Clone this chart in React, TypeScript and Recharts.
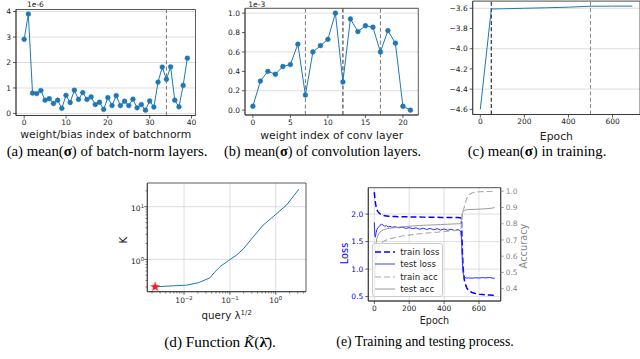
import React from "react";
import {
  CartesianGrid,
  ComposedChart,
  Legend,
  Line,
  LineChart,
  ReferenceArea,
  ReferenceLine,
  Scatter,
  XAxis,
  YAxis,
} from "recharts";

const SANS = "DejaVu Sans";
const SERIF = "Liberation Serif";
const BLUE = "#1f77b4";
const INK = "#222";
const GRID = "#d6d6d6";
const SPINE = "#333";

// (a) mean(sigma) per batch-norm weight/bias, units of 1e-6
const BN_SIGMA = [
  2.91, 3.9, 0.8, 0.78, 0.9, 0.52, 0.58, 0.39, 0.52, 0.2, 0.71, 0.43, 0.91, 0.55,
  0.82, 0.55, 0.65, 0.35, 0.44, 0.16, 0.62, 0.31, 0.7, 0.31, 0.48, 0.31, 0.56, 0.22,
  0.35, 0.13, 0.49, 0.25, 1.23, 1.82, 1.34, 1.83, 0.52, 0.26, 1.1, 2.17,
];
const BN_SPLITS = [34];
const BN_TICKS_X = [0, 10, 20, 30, 40];
const BN_TICKS_Y = [0, 1, 2, 3, 4];

// (b) mean(sigma) per conv weight, units of 1e-3
const CONV_SIGMA = [
  0.04, 0.3, 0.4, 0.37, 0.45, 0.47, 0.68, 0.155, 0.6, 0.665, 0.73, 1.0, 0.29, 0.94,
  0.81, 0.87, 0.855, 0.6, 0.82, 0.69, 0.04, 0.0,
];
const CONV_SPLITS = [7, 12, 17];
const CONV_TICKS_X = [0, 5, 10, 15, 20];
const CONV_TICKS_Y = [0, 0.2, 0.4, 0.6, 0.8, 1.0];

// (c) mean(sigma) during training
const C_EPOCH = [0, 50, 100, 200, 300, 400, 470, 500, 600, 690];
const C_SIGMA = [-4.6, -3.607, -3.605, -3.6, -3.595, -3.589, -3.582, -3.58, -3.579, -3.579];
const C_SPLITS = [50, 500];
const C_TICKS_X = [0, 200, 400, 600];
const C_TICKS_Y = [-4.6, -4.4, -4.2, -4.0, -3.8, -3.6];

// (d) K(lambda) on log-log axes
const K_X = [0.00234, 0.00589, 0.0115, 0.0204, 0.0367, 0.0472, 0.0631, 0.092, 0.14, 0.195, 0.324, 0.53, 0.875, 1.71, 3.21];
const K_Y = [0.302, 0.316, 0.325, 0.36, 0.448, 0.582, 0.746, 0.942, 1.21, 1.57, 2.69, 4.47, 6.46, 10.7, 21.6];
const K_START = [{ x: 0.00234, y: 0.302 }];
const K_TICKS_X = [
  0.002, 0.003, 0.004, 0.005, 0.006, 0.007, 0.008, 0.009, 0.01, 0.02, 0.03, 0.04, 0.05,
  0.06, 0.07, 0.08, 0.09, 0.1, 0.2, 0.3, 0.4, 0.5, 0.6, 0.7, 0.8, 0.9, 1, 2, 3, 4,
];
const K_TICKS_Y = [0.3, 0.4, 0.5, 0.6, 0.7, 0.8, 0.9, 1, 2, 3, 4, 5, 6, 7, 8, 9, 10, 20];
const K_MAJOR_X = [0.01, 0.1, 1];
const K_MAJOR_Y = [1, 10];

// (e) training / testing curves
const E_EPOCH = [
  0, 3, 6, 10, 15, 20, 30, 40, 50, 60, 70, 80, 90, 100, 120, 140, 160, 180, 200, 220,
  240, 260, 280, 300, 320, 340, 360, 380, 400, 420, 440, 460, 480, 490, 495, 500, 505,
  510, 515, 520, 530, 540, 560, 580, 600, 620, 640, 660, 680, 690,
];
const TRAIN_LOSS = [
  2.4, 2.29, 2.21, 2.14, 2.08, 2.05, 2.01, 1.99, 1.975, 1.97, 1.965, 1.96, 1.96, 1.957,
  1.955, 1.953, 1.952, 1.95, 1.95, 1.948, 1.947, 1.946, 1.945, 1.944, 1.943, 1.942,
  1.941, 1.94, 1.94, 1.939, 1.938, 1.937, 1.936, 1.935, 1.93, 1.86, 1.3, 0.98, 0.82,
  0.74, 0.66, 0.61, 0.575, 0.555, 0.545, 0.538, 0.532, 0.527, 0.523, 0.52,
];
const TEST_LOSS = [
  1.85, 1.62, 1.58, 1.66, 1.72, 1.75, 1.78, 1.82, 1.8, 1.78, 1.79, 1.765, 1.78, 1.76,
  1.77, 1.75, 1.765, 1.74, 1.755, 1.735, 1.75, 1.725, 1.745, 1.72, 1.74, 1.715, 1.735,
  1.71, 1.73, 1.705, 1.725, 1.7, 1.72, 1.7, 1.69, 1.55, 1.12, 0.92, 0.87, 0.845, 0.835,
  0.84, 0.835, 0.842, 0.838, 0.845, 0.84, 0.848, 0.835, 0.83,
];
const TRAIN_ACC = [
  0.36, 0.46, 0.53, 0.58, 0.62, 0.64, 0.665, 0.68, 0.69, 0.695, 0.7, 0.705, 0.708, 0.71,
  0.715, 0.72, 0.724, 0.727, 0.73, 0.733, 0.736, 0.738, 0.74, 0.742, 0.744, 0.746, 0.748,
  0.75, 0.752, 0.754, 0.756, 0.758, 0.76, 0.761, 0.762, 0.79, 0.86, 0.885, 0.9, 0.92,
  0.955, 0.975, 0.99, 0.995, 0.997, 0.998, 0.998, 0.999, 0.999, 0.999,
];
const TEST_ACC = [
  0.36, 0.56, 0.63, 0.68, 0.71, 0.725, 0.745, 0.755, 0.762, 0.765, 0.768, 0.77, 0.772,
  0.774, 0.776, 0.779, 0.781, 0.783, 0.785, 0.786, 0.788, 0.789, 0.79, 0.791, 0.792,
  0.793, 0.794, 0.795, 0.796, 0.797, 0.798, 0.799, 0.8, 0.8, 0.8, 0.83, 0.865, 0.877,
  0.881, 0.884, 0.886, 0.887, 0.888, 0.889, 0.89, 0.891, 0.892, 0.894, 0.897, 0.9,
];
const E_TICKS_X = [0, 200, 400, 600];
const LOSS_TICKS = [0.5, 1.0, 1.5, 2.0];
const ACC_TICKS = [0.4, 0.5, 0.6, 0.7, 0.8, 0.9, 1.0];

const TICK = { fontSize: 7.5, fill: INK, fontFamily: SANS };
const AXIS_LINE = { stroke: SPINE, strokeWidth: 0.8 };
const TICK_LINE = { stroke: SPINE, strokeWidth: 0.8 };

const minus = (s: string) => s.replace("-", "\u2212");

// axis titles are placed in the chart's own svg coordinates
function xTitle(text: React.ReactNode, cx: number, baseline: number, size = 10.8) {
  return () => (
    <text x={cx} y={baseline} textAnchor="middle" fontSize={size} fontFamily={SANS} fill={INK}>
      {text}
    </text>
  );
}

function yTitle(text: string, cx: number, cy: number, size: number, color = INK) {
  return () => (
    <text
      x={cx}
      y={cy}
      transform={`rotate(-90 ${cx} ${cy})`}
      textAnchor="middle"
      dominantBaseline="central"
      fontSize={size}
      fontFamily={SANS}
      fill={color}
    >
      {text}
    </text>
  );
}

// box around the plot area (top and right spines)
function frame(xd: number[], yd: number[], yAxisId?: string) {
  return (
    <ReferenceArea
      x1={xd[0]}
      x2={xd[1]}
      y1={yd[0]}
      y2={yd[1]}
      yAxisId={yAxisId}
      fill="none"
      fillOpacity={0}
      stroke={SPINE}
      strokeWidth={0.8}
      ifOverflow="visible"
    />
  );
}

function isMajor(v: number, majors: number[]) {
  return majors.some((m) => Math.abs(m - v) / m < 1e-6);
}

function expLabel(v: number) {
  const e = Math.round(Math.log10(v));
  return e < 0 ? `\u2212${-e}` : `${e}`;
}

function LogTickX(props: any) {
  const { x, y, payload } = props;
  const major = isMajor(payload.value, K_MAJOR_X);
  return (
    <g>
      <line x1={x} x2={x} y1={y} y2={y + (major ? 3 : 1.8)} stroke={SPINE} strokeWidth={major ? 0.8 : 0.6} />
      {major && (
        <text x={x} y={y + 11.6} textAnchor="middle" fontSize={7.5} fontFamily={SANS} fill={INK}>
          10<tspan dy={-3} fontSize={5.3}>{expLabel(payload.value)}</tspan>
        </text>
      )}
    </g>
  );
}

function LogTickY(props: any) {
  const { x, y, payload } = props;
  const major = isMajor(payload.value, K_MAJOR_Y);
  return (
    <g>
      <line x1={x} x2={x - (major ? 3 : 1.8)} y1={y} y2={y} stroke={SPINE} strokeWidth={major ? 0.8 : 0.6} />
      {major && (
        <text x={x - 3.3} y={y + 4.3} textAnchor="end" fontSize={7.5} fontFamily={SANS} fill={INK}>
          10<tspan dy={-3} fontSize={5.3}>{expLabel(payload.value)}</tspan>
        </text>
      )}
    </g>
  );
}

function Star(props: any) {
  const { cx, cy } = props;
  if (cx == null || cy == null) return <g />;
  const pts: string[] = [];
  for (let i = 0; i < 10; i++) {
    const r = i % 2 === 0 ? 4.6 : 1.9;
    const a = -Math.PI / 2 + (i * Math.PI) / 5;
    pts.push(`${cx + r * Math.cos(a)},${cy + r * Math.sin(a)}`);
  }
  return <polygon points={pts.join(" ")} fill="#ff1a1a" stroke="#ff1a1a" strokeWidth={0.4} />;
}

interface DotPanelProps {
  left: number;
  width: number;
  values: number[];
  splits: number[];
  heavySplit?: number;
  xDomain: number[];
  yDomain: number[];
  xTicks: number[];
  yTicks: number[];
  yFmt: (v: number) => string;
  title?: string;
  titleX: number;
  titleY: number;
  yAxisW: number;
  mTop: number;
  mRight: number;
  xAxisH: number;
}

function DotPanel(p: DotPanelProps) {
  const data = p.values.map((v, i) => ({ idx: i, v }));
  return (
    <div style={{ position: "absolute", left: p.left, top: 0 }}>
      <LineChart width={p.width} height={145} data={data} margin={{ top: p.mTop, right: p.mRight, bottom: 0, left: 0 }}>
        <CartesianGrid vertical={false} stroke={GRID} strokeWidth={0.8} />
        <XAxis
          dataKey="idx"
          type="number"
          domain={p.xDomain}
          ticks={p.xTicks}
          allowDataOverflow
          height={p.xAxisH}
          tick={TICK}
          tickSize={3}
          tickMargin={1.5}
          axisLine={AXIS_LINE}
          tickLine={TICK_LINE}
          label={p.title ? xTitle(p.title, p.titleX, p.titleY) : undefined}
        />
        <YAxis
          type="number"
          domain={p.yDomain}
          ticks={p.yTicks}
          allowDataOverflow
          width={p.yAxisW}
          tick={TICK}
          tickSize={3}
          tickMargin={2}
          tickFormatter={p.yFmt}
          axisLine={AXIS_LINE}
          tickLine={TICK_LINE}
        />
        {frame(p.xDomain, p.yDomain)}
        {p.splits.map((s) => (
          <ReferenceLine
            key={s}
            x={s}
            stroke={s === p.heavySplit ? "#555" : "#777"}
            strokeWidth={s === p.heavySplit ? 1.3 : 1}
            strokeDasharray="4 2.4"
          />
        ))}
        <Line
          type="linear"
          dataKey="v"
          stroke={BLUE}
          strokeWidth={1}
          dot={{ r: 2.4, fill: BLUE, stroke: BLUE, strokeWidth: 0.5 }}
          isAnimationActive={false}
        />
      </LineChart>
    </div>
  );
}

function TrainingPanel() {
  const data = C_EPOCH.map((e, i) => ({ epoch: e, v: C_SIGMA[i] }));
  const xd = [-34.5, 724.5];
  const yd = [-4.651, -3.529];
  return (
    <div style={{ position: "absolute", left: 440, top: 0 }}>
      <LineChart width={200} height={145} data={data} margin={{ top: 1.1, right: 0, bottom: 0, left: 0 }}>
        <CartesianGrid vertical={false} stroke={GRID} strokeWidth={0.8} />
        <XAxis
          dataKey="epoch"
          type="number"
          domain={xd}
          ticks={C_TICKS_X}
          allowDataOverflow
          height={30.5}
          tick={TICK}
          tickSize={3}
          tickMargin={1.5}
          axisLine={AXIS_LINE}
          tickLine={TICK_LINE}
          label={xTitle("Epoch", 116.4, 139.7)}
        />
        <YAxis
          type="number"
          domain={yd}
          ticks={C_TICKS_Y}
          allowDataOverflow
          width={32.7}
          tick={TICK}
          tickSize={3}
          tickMargin={2}
          tickFormatter={(v: number) => minus(v.toFixed(1))}
          axisLine={AXIS_LINE}
          tickLine={TICK_LINE}
        />
        {frame(xd, yd)}
        {C_SPLITS.map((s, i) => (
          <ReferenceLine key={s} x={s} stroke={i === 0 ? "#444" : "#888"} strokeWidth={i === 0 ? 1.3 : 1} strokeDasharray="4 2.4" />
        ))}
        <Line type="linear" dataKey="v" stroke={BLUE} strokeWidth={1} dot={false} isAnimationActive={false} />
      </LineChart>
    </div>
  );
}

function KPanel() {
  const data = K_X.map((x, i) => ({ x, y: K_Y[i] }));
  const xd = [0.00158, 4.57];
  const yd = [0.244, 28.2];
  return (
    <div style={{ position: "absolute", left: 110, top: 175 }}>
      <ComposedChart width={200} height={150} data={data} margin={{ top: 8, right: 4, bottom: 0, left: 10 }}>
        <CartesianGrid stroke={GRID} strokeWidth={0.8} horizontalValues={K_MAJOR_Y} verticalValues={K_MAJOR_X} />
        <XAxis
          dataKey="x"
          type="number"
          scale="log"
          domain={xd}
          ticks={K_TICKS_X}
          interval={0}
          allowDataOverflow
          height={33.3}
          tick={<LogTickX />}
          tickSize={0}
          tickMargin={0}
          tickLine={false}
          axisLine={AXIS_LINE}
          label={xTitle(
            <>
              query λ<tspan dy={-4} fontSize={7}>1/2</tspan>
            </>,
            116.7,
            143.5,
            10.3
          )}
        />
        <YAxis
          type="number"
          scale="log"
          domain={yd}
          ticks={K_TICKS_Y}
          interval={0}
          allowDataOverflow
          width={27.3}
          tick={<LogTickY />}
          tickSize={0}
          tickMargin={0}
          tickLine={false}
          axisLine={AXIS_LINE}
          label={yTitle("K", 13, 65, 10.3)}
        />
        {frame(xd, yd)}
        <Line type="linear" dataKey="y" stroke={BLUE} strokeWidth={1} dot={false} isAnimationActive={false} />
        <Scatter data={K_START} dataKey="y" shape={<Star />} isAnimationActive={false} />
      </ComposedChart>
    </div>
  );
}

const LEGEND_ROWS = [
  { label: "train loss", color: "#0000ff", width: 1.6, dash: "6 3" },
  { label: "test loss", color: "#4040ff", width: 1, dash: undefined },
  { label: "train acc", color: "#aaaaaa", width: 1.2, dash: "6 3" },
  { label: "test acc", color: "#999999", width: 1, dash: undefined },
];

function LossLegend() {
  return (
    <div
      style={{
        width: 71.6,
        height: 53.4,
        boxSizing: "border-box",
        background: "rgba(255,255,255,0.8)",
        border: "0.8px solid #cccccc",
        borderRadius: 3,
        padding: "1.4px 0 0 2.5px",
        fontFamily: SANS,
        fontSize: 8.6,
        color: INK,
      }}
    >
      {LEGEND_ROWS.map((r) => (
        <div key={r.label} style={{ display: "flex", alignItems: "center", height: 12.5, lineHeight: "12.5px" }}>
          <svg width={20} height={6} style={{ display: "block" }}>
            <line x1={0} x2={20} y1={3} y2={3} stroke={r.color} strokeWidth={r.width} strokeDasharray={r.dash} />
          </svg>
          <span style={{ marginLeft: 5, whiteSpace: "nowrap" }}>{r.label}</span>
        </div>
      ))}
    </div>
  );
}

function ProcessPanel() {
  const data = E_EPOCH.map((e, i) => ({
    epoch: e,
    trainLoss: TRAIN_LOSS[i],
    testLoss: TEST_LOSS[i],
    trainAcc: TRAIN_ACC[i],
    testAcc: TEST_ACC[i],
  }));
  const xd = [-34.5, 724.5];
  const lossDomain = [0.42, 2.48];
  return (
    <div style={{ position: "absolute", left: 330, top: 175 }}>
      <LineChart width={201} height={153} data={data} margin={{ top: 12.7, right: 0.3, bottom: 3, left: 16 }}>
        <CartesianGrid yAxisId="loss" stroke={GRID} strokeWidth={0.8} />
        <XAxis
          dataKey="epoch"
          type="number"
          domain={xd}
          ticks={E_TICKS_X}
          allowDataOverflow
          height={24}
          tick={TICK}
          tickSize={3}
          tickMargin={1.5}
          axisLine={AXIS_LINE}
          tickLine={TICK_LINE}
          label={xTitle("Epoch", 104.5, 149, 9.6)}
        />
        <YAxis
          yAxisId="loss"
          type="number"
          domain={lossDomain}
          ticks={LOSS_TICKS}
          allowDataOverflow
          width={22.3}
          tick={{ ...TICK, fill: "#0000ff" }}
          tickSize={3}
          tickMargin={2}
          tickFormatter={(v: number) => v.toFixed(1)}
          axisLine={AXIS_LINE}
          tickLine={TICK_LINE}
          label={yTitle("Loss", 14, 78.5, 9.8, "#0000ff")}
        />
        <YAxis
          yAxisId="acc"
          orientation="right"
          type="number"
          domain={[0.324, 1.022]}
          ticks={ACC_TICKS}
          allowDataOverflow
          width={30}
          tick={{ ...TICK, fill: "#888888" }}
          tickSize={3}
          tickMargin={2}
          tickFormatter={(v: number) => v.toFixed(1)}
          axisLine={AXIS_LINE}
          tickLine={{ stroke: "#888", strokeWidth: 0.8 }}
          label={yTitle("Accuracy", 193, 71, 9.8, "#888888")}
        />
        {frame(xd, lossDomain, "loss")}
        <Line yAxisId="loss" type="linear" dataKey="trainLoss" stroke="#0000ff" strokeWidth={1.5} strokeDasharray="6 3" dot={false} isAnimationActive={false} />
        <Line yAxisId="loss" type="linear" dataKey="testLoss" stroke="#2a2aff" strokeWidth={1} dot={false} isAnimationActive={false} />
        <Line yAxisId="acc" type="linear" dataKey="trainAcc" stroke="#aaaaaa" strokeWidth={1.1} strokeDasharray="6 3" dot={false} isAnimationActive={false} />
        <Line yAxisId="acc" type="linear" dataKey="testAcc" stroke="#999999" strokeWidth={1} dot={false} isAnimationActive={false} />
        <Legend
          layout="vertical"
          align="center"
          verticalAlign="middle"
          wrapperStyle={{ left: 41.7, top: 68.3, width: 72, height: 54 }}
          content={() => <LossLegend />}
        />
      </LineChart>
    </div>
  );
}

const CAPTION: React.CSSProperties = {
  position: "absolute",
  width: 240,
  textAlign: "center",
  fontFamily: SERIF,
  lineHeight: 1,
  color: "#000",
  whiteSpace: "nowrap",
};

const OFFSET_TEXT: React.CSSProperties = {
  position: "absolute",
  top: 1.2,
  fontFamily: SANS,
  fontSize: 7.5,
  lineHeight: 1,
  color: INK,
};

export default function App() {
  return (
    <div style={{ position: "absolute", left: 0, top: 0, width: 640, height: 359, background: "#fff", overflow: "hidden" }}>
      <DotPanel
        left={0}
        width={200}
        values={BN_SIGMA}
        splits={BN_SPLITS}
        xDomain={[-1.95, 40.95]}
        yDomain={[-0.08, 4.08]}
        xTicks={BN_TICKS_X}
        yTicks={BN_TICKS_Y}
        yFmt={(v) => String(v)}
        titleX={105.8}
        titleY={137.8}
        yAxisW={16}
        mTop={9.5}
        mRight={4.5}
        xAxisH={29.5}
      />
      <DotPanel
        left={225}
        width={198}
        values={CONV_SIGMA}
        splits={CONV_SPLITS}
        heavySplit={12}
        xDomain={[-1.05, 22.05]}
        yDomain={[-0.05, 1.05]}
        xTicks={CONV_TICKS_X}
        yTicks={CONV_TICKS_Y}
        yFmt={(v) => v.toFixed(1)}
        title="weight index of conv layer"
        titleX={106.7}
        titleY={138.8}
        yAxisW={20}
        mTop={8.3}
        mRight={4.7}
        xAxisH={30}
      />
      <TrainingPanel />
      <KPanel />
      <ProcessPanel />

      <div
        style={{
          position: "absolute",
          left: 5.8,
          width: 200,
          top: 129.2,
          textAlign: "center",
          fontFamily: SANS,
          fontSize: 10.8,
          lineHeight: "12px",
          color: INK,
          whiteSpace: "nowrap",
        }}
      >
        weight/bias index of batchnorm
      </div>

      <div style={{ ...OFFSET_TEXT, left: 27 }}>1e-6</div>
      <div style={{ ...OFFSET_TEXT, left: 248.3 }}>1e-3</div>

      <div style={{ ...CAPTION, left: 107 - 120, top: 143.5, fontSize: 14.8 }}>
        (a) mean(<b>σ</b>) of batch-norm layers.
      </div>
      <div style={{ ...CAPTION, left: 322.5 - 120, top: 143.8, fontSize: 14.3 }}>
        (b) mean(<b>σ</b>) of convolution layers.
      </div>
      <div style={{ ...CAPTION, left: 537 - 120, top: 143.5, fontSize: 14.8 }}>
        (c) mean(<b>σ</b>) in training.
      </div>
      <div style={{ ...CAPTION, left: 220 - 120, top: 334.3, fontSize: 15.3 }}>
        (d) Function <i>K&#771;</i>(<b>λ&#772;</b>).
      </div>
      <div style={{ ...CAPTION, left: 425 - 120, top: 335, fontSize: 13.8 }}>
        (e) Training and testing process.
      </div>
    </div>
  );
}
